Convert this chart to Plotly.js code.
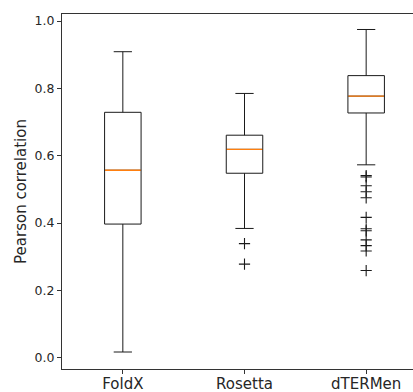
<!DOCTYPE html>
<html>
<head>
<meta charset="utf-8">
<script src="https://cdn.plot.ly/plotly-3.0.1.min.js"></script>
<style>
html, body { margin: 0; padding: 0; overflow: hidden; background: #fff; }
#chart { width: 430px; height: 392px; }
</style>
</head>
<body>
<div id="chart"></div>
<script>
const categories = ["FoldX", "Rosetta", "dTERMen"];
const lowerWhisker = [0.017, 0.384, 0.573];
const q1Values = [0.397, 0.548, 0.727];
const medianValues = [0.557, 0.619, 0.777];
const q3Values = [0.729, 0.661, 0.838];
const upperWhisker = [0.909, 0.785, 0.975];
const outliersFoldX = [];
const outliersRosetta = [0.339, 0.278];
const outliersDTERMen = [0.541, 0.537, 0.511, 0.493, 0.475, 0.417, 0.383, 0.377, 0.350, 0.333, 0.317, 0.259];
const yTicks = [0.0, 0.2, 0.4, 0.6, 0.8, 1.0];

const positions = categories.map((c, i) => i + 1);
const boxWidth = 0.3;
const ink = "#1a1a1a";

const traces = [];
traces.push({
  type: "box",
  x: positions,
  q1: q1Values,
  median: medianValues,
  q3: q3Values,
  lowerfence: lowerWhisker,
  upperfence: upperWhisker,
  width: boxWidth,
  whiskerwidth: 0.5,
  boxpoints: false,
  fillcolor: "rgba(0,0,0,0)",
  line: { color: ink, width: 1 },
  hoverinfo: "skip",
  showlegend: false
});

// orange median lines
positions.forEach((p, i) => {
  traces.push({
    type: "scatter",
    mode: "lines",
    x: [p - boxWidth / 2 + 0.004, p + boxWidth / 2 - 0.004],
    y: [medianValues[i], medianValues[i]],
    line: { color: "#ff7f0e", width: 1.4 },
    hoverinfo: "skip",
    showlegend: false
  });
});

// outliers
const allOutliers = [outliersFoldX, outliersRosetta, outliersDTERMen];
allOutliers.forEach((vals, i) => {
  if (!vals.length) return;
  traces.push({
    type: "scatter",
    mode: "markers",
    x: vals.map(() => positions[i]),
    y: vals,
    marker: { symbol: "cross-thin-open", size: 8, color: ink, line: { color: ink, width: 1.1 } },
    hoverinfo: "skip",
    showlegend: false
  });
});

const layout = {
  width: 430,
  height: 392,
  margin: { l: 62, r: 3, t: 14, b: 23 },
  paper_bgcolor: "#fff",
  plot_bgcolor: "#fff",
  font: { family: "DejaVu Sans", color: "#262626" },
  showlegend: false,
  xaxis: {
    range: [0.5, 3.5],
    tickvals: positions,
    ticktext: categories,
    ticks: "outside",
    ticklen: 4,
    tickwidth: 1,
    tickcolor: "#333",
    ticklabelstandoff: -3,
    tickfont: { size: 15, family: "DejaVu Sans", color: "#262626" },
    showgrid: false,
    zeroline: false,
    showline: true,
    linecolor: "#333",
    linewidth: 1,
    mirror: true
  },
  yaxis: {
    range: [-0.0335, 1.021],
    tickvals: yTicks,
    ticktext: yTicks.map(v => v.toFixed(1)),
    ticks: "outside",
    ticklen: 4,
    tickwidth: 1,
    tickcolor: "#333",
    tickfont: { size: 12.5, family: "DejaVu Sans", color: "#262626" },
    showgrid: false,
    zeroline: false,
    showline: true,
    linecolor: "#333",
    linewidth: 1,
    mirror: true,
    title: { text: "Pearson correlation", font: { size: 15, family: "DejaVu Sans", color: "#262626" }, standoff: 4 }
  }
};

Plotly.newPlot("chart", traces, layout, { displayModeBar: false, staticPlot: true });
</script>
</body>
</html>
